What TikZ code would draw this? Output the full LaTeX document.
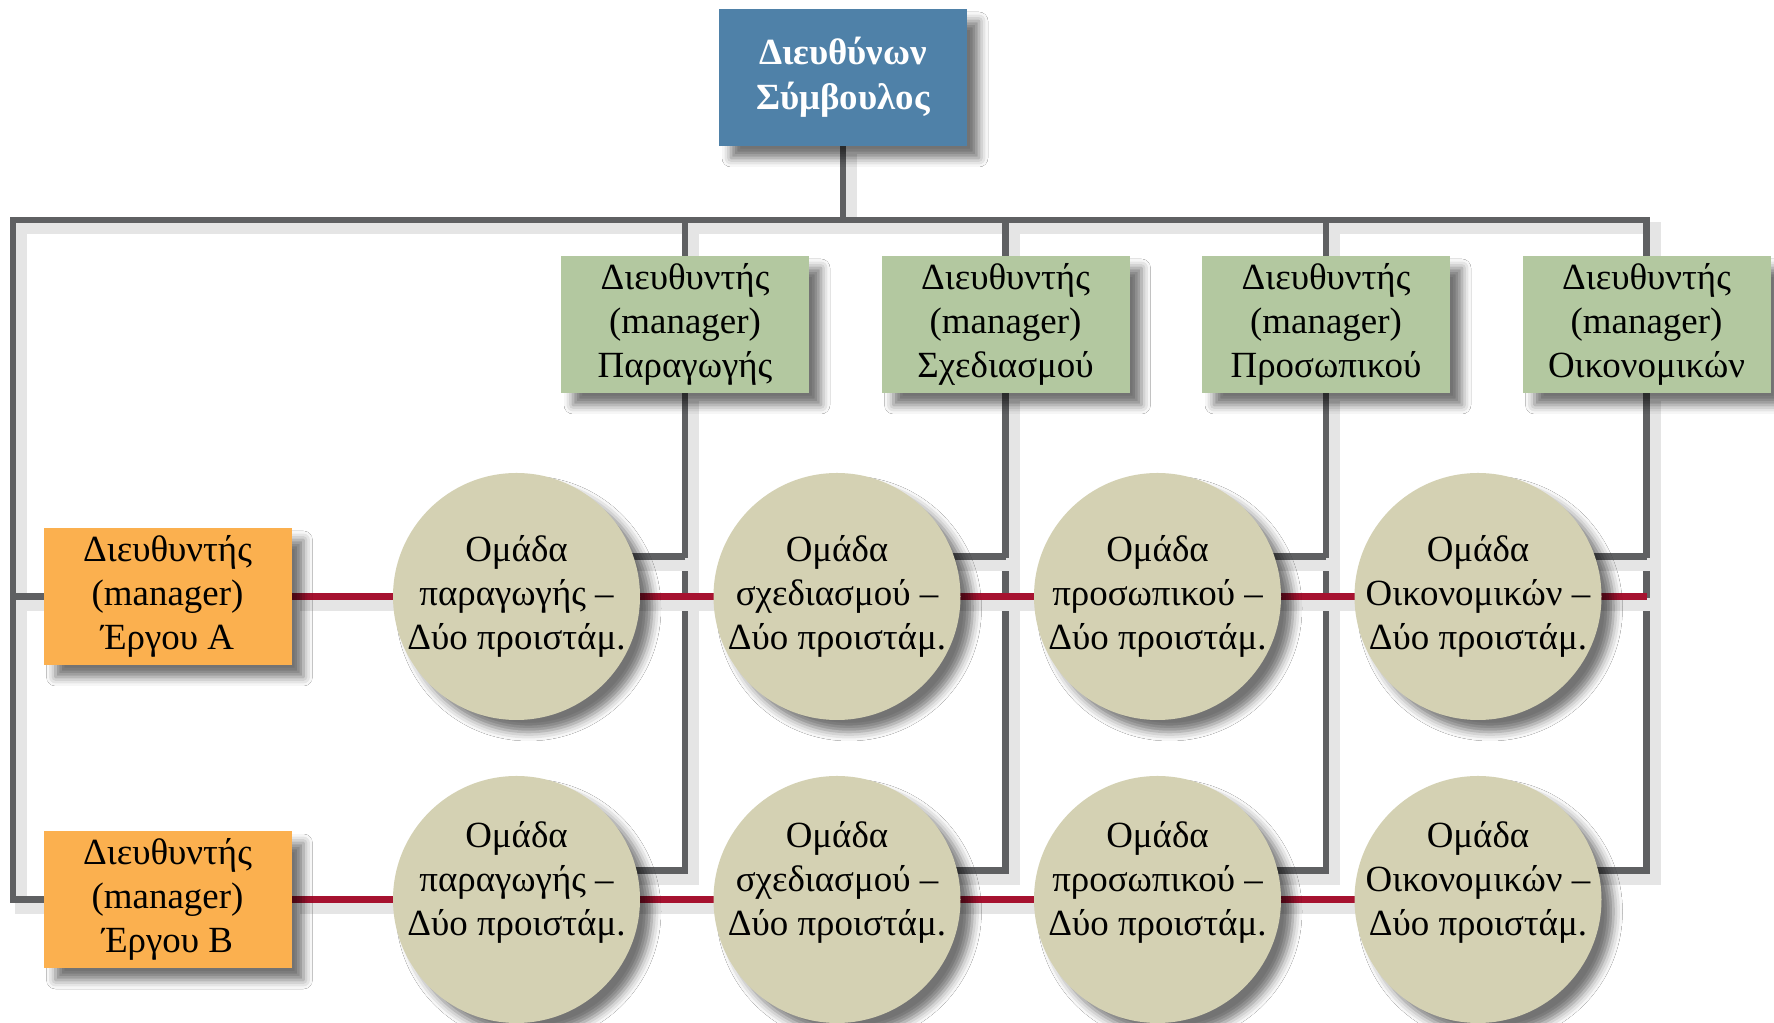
\documentclass[tikz,border=0pt]{standalone}
\usepackage{fontspec}
\setmainfont{Liberation Serif}
\usetikzlibrary{positioning,backgrounds,shadows.blur}

\definecolor{ceoblue}{RGB}{79,129,168}
\definecolor{mgrgreen}{RGB}{179,200,160}
\definecolor{prjorange}{RGB}{251,176,79}
\definecolor{teambeige}{RGB}{212,209,179}
\definecolor{wiregray}{RGB}{95,96,98}
\definecolor{wirered}{RGB}{166,18,48}

\tikzset{
  shadowed/.style={blur shadow={shadow xshift=1.2mm, shadow yshift=-1.2mm,
    shadow blur radius=0.9mm, shadow opacity=55}},
  boxbase/.style={rectangle, shadowed, minimum width=2.48cm, minimum height=1.37cm,
    align=center, inner sep=0pt, outer sep=0pt, font=\fontsize{10.5}{12.6}\selectfont},
  ceobox/.style={boxbase, fill=ceoblue, text=white, font=\fontsize{10.5}{12.8}\selectfont\bfseries},
  mgrbox/.style={boxbase, fill=mgrgreen},
  prjbox/.style={boxbase, fill=prjorange},
  team/.style={circle, shadowed, fill=teambeige, minimum size=2.47cm, inner sep=0pt, outer sep=0pt},
  teamtext/.style={align=center, font=\fontsize{10.5}{12.6}\selectfont},
  wire/.style={draw=wiregray, line width=1.8pt,
    preaction={draw=black!10, line width=3.5pt, transform canvas={shift={(0.8mm,-0.8mm)}}}},
  redwire/.style={wire, draw=wirered},
}

\begin{document}
\begin{tikzpicture}
\useasboundingbox (0,0) rectangle (17.74,-10.23);

% top
\node[ceobox] (ceo) at (8.43,-0.775) {Διευθύνων\\Σύμβουλος};
\coordinate (busL) at (0.13,-2.20);

% functional managers
\node[mgrbox] (m1) at (6.85,-3.245) {Διευθυντής\\(manager)\\Παραγωγής};
\node[mgrbox, right=0.725cm of m1] (m2) {Διευθυντής\\(manager)\\Σχεδιασμού};
\node[mgrbox, right=0.725cm of m2] (m3) {Διευθυντής\\(manager)\\Προσωπικού};
\node[mgrbox, right=0.725cm of m3] (m4) {Διευθυντής\\(manager)\\Οικονομικών};

% project managers
\node[prjbox] (prA) at (1.675,-5.965) {Διευθυντής\\(manager)\\Έργου Α};
\node[prjbox] (prB) at (1.675,-8.995) {Διευθυντής\\(manager)\\Έργου Β};

% teams, project A
\node[team, label={[teamtext]center:Ομάδα\\παραγωγής –\\Δύο προιστάμ.}] (a1) at (5.165,-5.965) {};
\node[team, right=0.735cm of a1, label={[teamtext]center:Ομάδα\\σχεδιασμού –\\Δύο προιστάμ.}] (a2) {};
\node[team, right=0.735cm of a2, label={[teamtext]center:Ομάδα\\προσωπικού –\\Δύο προιστάμ.}] (a3) {};
\node[team, right=0.735cm of a3, label={[teamtext]center:Ομάδα\\Οικονομικών –\\Δύο προιστάμ.}] (a4) {};

% teams, project B (text sits a little high)
\node[team, label={[teamtext, yshift=1.7mm]center:Ομάδα\\παραγωγής –\\Δύο προιστάμ.}] (b1) at (5.165,-8.995) {};
\node[team, right=0.735cm of b1, label={[teamtext, yshift=1.7mm]center:Ομάδα\\σχεδιασμού –\\Δύο προιστάμ.}] (b2) {};
\node[team, right=0.735cm of b2, label={[teamtext, yshift=1.7mm]center:Ομάδα\\προσωπικού –\\Δύο προιστάμ.}] (b3) {};
\node[team, right=0.735cm of b3, label={[teamtext, yshift=1.7mm]center:Ομάδα\\Οικονομικών –\\Δύο προιστάμ.}] (b4) {};

\begin{scope}[on background layer]
\fill[white] (0,0) rectangle (17.74,-10.23);
\draw[wire] (ceo.south) -- (ceo.south |- busL);
\draw[wire] (m4.north) |- (busL) |- (prB.west);
\draw[wire] (busL |- prA) -- (prA.west);
\foreach \i in {1,...,4} {
  \coordinate (at\i) at ([yshift=4mm]a\i.center);
  \coordinate (bt\i) at ([yshift=2.9mm]b\i.center);
  \draw[wire] (m\i |- busL) -- (m\i.north);
  \draw[wire] (m\i.south) |- (bt\i);
  \draw[wire] (m\i |- at\i) -- (at\i);
}
\draw[redwire] (prA.east) -- (m4 |- a4);
\draw[redwire] (prB.east) -- (b4);
\end{scope}
\end{tikzpicture}
\end{document}
